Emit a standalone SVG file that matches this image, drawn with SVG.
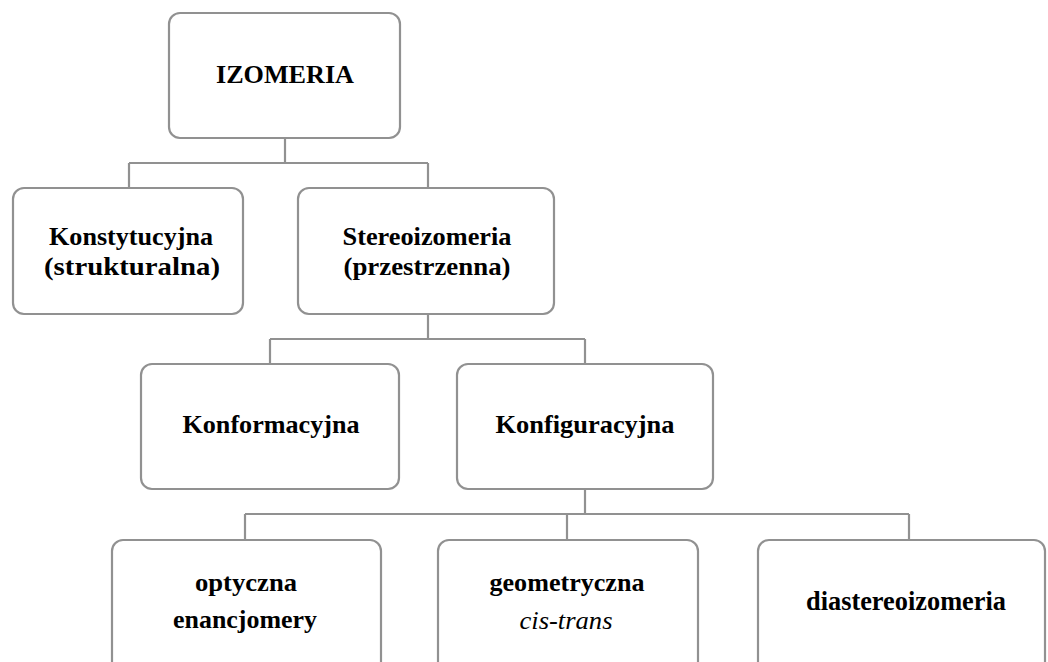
<svg xmlns="http://www.w3.org/2000/svg" width="1048" height="662" viewBox="0 0 1048 662">
<style>
.box{fill:#ffffff;stroke:#919191;stroke-width:2.2}
.ln{fill:none;stroke:#919191;stroke-width:2.2}
.t{font-family:'Liberation Serif','DejaVu Serif',serif;font-weight:bold;font-size:26px;fill:#000;text-anchor:middle}
.it{font-style:italic;font-weight:normal}
</style>
<rect width="1048" height="662" fill="#ffffff"/>
<g id="connectors">
<path class="ln" d="M285,138 V163 M129,163 H428 M129,163 V188 M428,163 V188"/>
<path class="ln" d="M428,314 V339 M270,339 H585 M270,339 V364 M585,339 V364"/>
<path class="ln" d="M585,489 V514 M245,514 H909 M245,514 V540 M567,514 V540 M909,514 V540"/>
</g>
<g id="izomeria">
<rect class="box" x="169" y="13" width="231" height="125" rx="11"/>
<text class="t" x="285" y="83" textLength="138" lengthAdjust="spacingAndGlyphs">IZOMERIA</text>
</g>
<g id="konstytucyjna">
<rect class="box" x="13" y="188" width="230" height="126" rx="11"/>
<text class="t" x="131" y="245" textLength="164" lengthAdjust="spacingAndGlyphs">Konstytucyjna</text>
<text class="t" x="132" y="275" textLength="176" lengthAdjust="spacingAndGlyphs">(strukturalna)</text>
</g>
<g id="stereoizomeria">
<rect class="box" x="298" y="188" width="256" height="126" rx="11"/>
<text class="t" x="427" y="245" textLength="169" lengthAdjust="spacingAndGlyphs">Stereoizomeria</text>
<text class="t" x="427" y="275" textLength="167" lengthAdjust="spacingAndGlyphs">(przestrzenna)</text>
</g>
<g id="konformacyjna">
<rect class="box" x="141" y="364" width="258" height="125" rx="11"/>
<text class="t" x="271" y="433" textLength="177" lengthAdjust="spacingAndGlyphs">Konformacyjna</text>
</g>
<g id="konfiguracyjna">
<rect class="box" x="457" y="364" width="256" height="125" rx="11"/>
<text class="t" x="585" y="433" textLength="179" lengthAdjust="spacingAndGlyphs">Konfiguracyjna</text>
</g>
<g id="optyczna">
<rect class="box" x="112" y="540" width="269" height="140" rx="11"/>
<text class="t" x="246" y="591" textLength="102" lengthAdjust="spacingAndGlyphs">optyczna</text>
<text class="t" x="245" y="628" textLength="144" lengthAdjust="spacingAndGlyphs">enancjomery</text>
</g>
<g id="geometryczna">
<rect class="box" x="438" y="540" width="260" height="140" rx="11"/>
<text class="t" x="567" y="591" textLength="155" lengthAdjust="spacingAndGlyphs">geometryczna</text>
<text class="t it" x="566" y="629" textLength="93" lengthAdjust="spacingAndGlyphs">cis-trans</text>
</g>
<g id="diastereoizomeria">
<rect class="box" x="758" y="540" width="287" height="140" rx="11"/>
<text class="t" x="906" y="610" style="font-size:27px" textLength="200" lengthAdjust="spacingAndGlyphs">diastereoizomeria</text>
</g>
</svg>
